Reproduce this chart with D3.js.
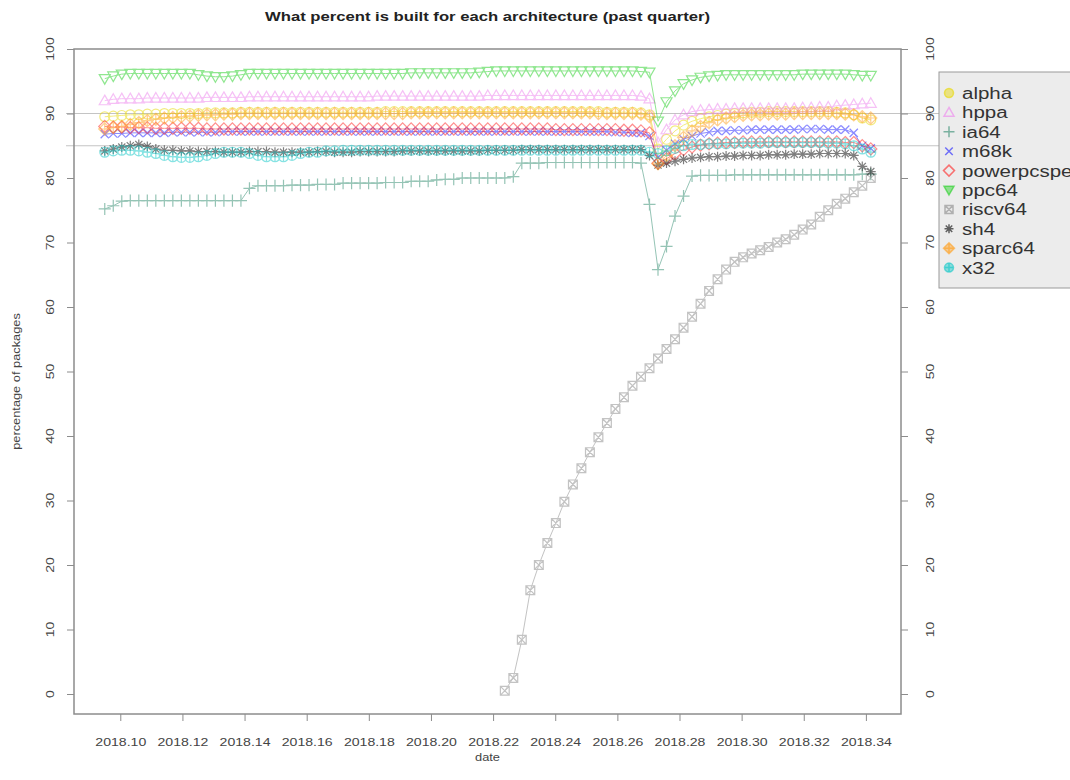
<!DOCTYPE html>
<html>
<head>
<meta charset="utf-8">
<script src="https://cdn.jsdelivr.net/npm/d3@7"></script>
<style>
  body { margin: 0; background: #fff; }
  svg { display: block; font-family: "Liberation Sans", Arial, sans-serif; }
</style>
</head>
<body>
<script>
// architectures, one series per arch (percent built, one value per day, past quarter)
const archs = ["alpha", "hppa", "ia64", "m68k", "powerpcspe", "ppc64", "riscv64", "sh4", "sparc64", "x32"];
const colors = ["#e8d800", "#ee82ee", "#2e8b6e", "#1a1aff", "#ff2020", "#22d022", "#888888", "#000000", "#ffa020", "#10c8c8"];
const pchs = [1, 2, 3, 4, 5, 6, 7, 8, 9, 10];

const firstDay = 2018.095;   // decimal year of first sample
const xTicks = [2018.10, 2018.12, 2018.14, 2018.16, 2018.18, 2018.20, 2018.22, 2018.24, 2018.26, 2018.28, 2018.30, 2018.32, 2018.34];
const yTicks = [0, 10, 20, 30, 40, 50, 60, 70, 80, 90, 100];
const refLines = [90, 85];

const alpha = [89.5, 89.6, 89.7, 89.8, 89.8, 89.9, 89.9, 90.0, 90.0, 90.0,
  90.0, 90.0, 90.1, 90.1, 90.1, 90.1, 90.2, 90.2, 90.2, 90.2,
  90.2, 90.2, 90.2, 90.2, 90.2, 90.2, 90.2, 90.2, 90.2, 90.2,
  90.2, 90.2, 90.2, 90.3, 90.3, 90.3, 90.3, 90.3, 90.3, 90.3,
  90.3, 90.3, 90.3, 90.3, 90.3, 90.3, 90.3, 90.3, 90.3, 90.3,
  90.3, 90.3, 90.3, 90.3, 90.3, 90.3, 90.3, 90.3, 90.3, 90.2,
  90.2, 90.2, 90.2, 90.1, 89.8, 84.5, 86.0, 87.3, 88.2, 88.8,
  89.2, 89.5, 89.7, 89.9, 90.0, 90.1, 90.2, 90.2, 90.3, 90.3,
  90.3, 90.3, 90.3, 90.3, 90.3, 90.3, 90.2, 90.1, 89.8, 89.3,
  89.0];
const hppa = [92.0, 92.2, 92.3, 92.3, 92.3, 92.4, 92.4, 92.4, 92.4, 92.4,
  92.4, 92.4, 92.5, 92.5, 92.5, 92.5, 92.5, 92.6, 92.6, 92.6,
  92.6, 92.6, 92.6, 92.6, 92.6, 92.6, 92.6, 92.6, 92.6, 92.6,
  92.6, 92.6, 92.7, 92.7, 92.7, 92.7, 92.7, 92.7, 92.7, 92.7,
  92.7, 92.7, 92.7, 92.7, 92.7, 92.8, 92.8, 92.8, 92.8, 92.8,
  92.8, 92.8, 92.8, 92.8, 92.8, 92.8, 92.8, 92.8, 92.8, 92.8,
  92.8, 92.8, 92.8, 92.7, 92.3, 85.5, 87.5, 89.0, 89.8, 90.3,
  90.5, 90.6, 90.7, 90.7, 90.8, 90.8, 90.8, 90.8, 90.8, 90.8,
  90.8, 90.8, 90.9, 90.9, 91.0, 91.0, 91.2, 91.3, 91.4, 91.5,
  91.6];
const ia64 = [75.2, 75.7, 76.4, 76.5, 76.5, 76.5, 76.5, 76.5, 76.5, 76.5,
  76.5, 76.5, 76.5, 76.5, 76.5, 76.5, 76.5, 78.4, 78.8, 78.8,
  78.8, 78.8, 78.9, 78.9, 78.9, 79.0, 79.0, 79.0, 79.2, 79.2,
  79.2, 79.2, 79.2, 79.3, 79.3, 79.3, 79.5, 79.5, 79.5, 79.7,
  79.8, 79.8, 80.0, 80.0, 80.0, 80.0, 80.0, 80.0, 80.2, 82.3,
  82.3, 82.3, 82.4, 82.4, 82.4, 82.4, 82.4, 82.4, 82.4, 82.4,
  82.4, 82.4, 82.4, 82.3, 75.9, 65.8, 69.4, 74.1, 77.2, 80.3,
  80.4, 80.4, 80.4, 80.4, 80.5, 80.5, 80.5, 80.5, 80.5, 80.5,
  80.5, 80.5, 80.5, 80.5, 80.5, 80.5, 80.5, 80.5, 80.5, 80.6,
  80.6];
const m68k = [86.8, 86.9, 86.9, 87.0, 87.0, 87.0, 87.0, 87.0, 87.1, 87.1,
  87.1, 87.1, 87.1, 87.1, 87.2, 87.2, 87.2, 87.2, 87.2, 87.2,
  87.2, 87.2, 87.2, 87.2, 87.2, 87.2, 87.2, 87.2, 87.2, 87.2,
  87.2, 87.2, 87.2, 87.2, 87.2, 87.2, 87.2, 87.2, 87.2, 87.2,
  87.2, 87.2, 87.2, 87.2, 87.2, 87.2, 87.2, 87.2, 87.2, 87.2,
  87.2, 87.2, 87.2, 87.2, 87.2, 87.2, 87.2, 87.2, 87.2, 87.2,
  87.1, 87.1, 87.0, 87.0, 86.5, 83.2, 84.3, 85.3, 86.0, 86.5,
  86.9, 87.1, 87.3, 87.3, 87.4, 87.4, 87.5, 87.5, 87.5, 87.5,
  87.5, 87.5, 87.6, 87.6, 87.6, 87.5, 87.5, 87.5, 87.0, 85.0,
  84.6];
const powerpcspe = [88.0, 87.9, 87.9, 87.8, 87.8, 87.8, 87.7, 87.7, 87.7, 87.7,
  87.7, 87.7, 87.6, 87.6, 87.6, 87.6, 87.6, 87.6, 87.6, 87.6,
  87.6, 87.6, 87.6, 87.6, 87.6, 87.6, 87.6, 87.6, 87.6, 87.6,
  87.6, 87.6, 87.6, 87.6, 87.6, 87.6, 87.6, 87.6, 87.6, 87.6,
  87.6, 87.6, 87.6, 87.6, 87.6, 87.6, 87.6, 87.6, 87.6, 87.6,
  87.6, 87.6, 87.6, 87.5, 87.5, 87.5, 87.5, 87.5, 87.5, 87.5,
  87.5, 87.4, 87.4, 87.3, 87.0, 82.3, 83.0, 83.8, 84.4, 84.8,
  85.1, 85.3, 85.4, 85.5, 85.5, 85.6, 85.6, 85.6, 85.6, 85.6,
  85.6, 85.6, 85.6, 85.6, 85.6, 85.6, 85.6, 85.5, 85.5, 85.0,
  84.5];
const ppc64 = [95.4, 95.8, 96.1, 96.2, 96.2, 96.2, 96.2, 96.2, 96.2, 96.2,
  96.2, 96.0, 95.8, 95.7, 95.7, 95.8, 96.0, 96.2, 96.2, 96.2,
  96.2, 96.2, 96.2, 96.2, 96.2, 96.2, 96.2, 96.2, 96.2, 96.2,
  96.2, 96.2, 96.2, 96.2, 96.2, 96.2, 96.3, 96.3, 96.3, 96.3,
  96.3, 96.3, 96.3, 96.3, 96.4, 96.5, 96.6, 96.6, 96.6, 96.6,
  96.6, 96.6, 96.6, 96.6, 96.6, 96.6, 96.6, 96.6, 96.6, 96.6,
  96.6, 96.6, 96.6, 96.5, 96.4, 88.8, 91.8, 93.5, 94.6, 95.2,
  95.6, 95.8, 95.9, 96.0, 96.0, 96.0, 96.0, 96.0, 96.0, 96.0,
  96.0, 96.0, 96.1, 96.1, 96.1, 96.1, 96.1, 96.1, 96.0, 95.9,
  95.9];
const riscv64 = [null, null, null, null, null, null, null, null, null, null,
  null, null, null, null, null, null, null, null, null, null,
  null, null, null, null, null, null, null, null, null, null,
  null, null, null, null, null, null, null, null, null, null,
  null, null, null, null, null, null, null, 0.5, 2.5, 8.4,
  16.1, 20.0, 23.4, 26.5, 29.8, 32.5, 35.0, 37.5, 39.8, 42.0,
  44.2, 46.0, 47.8, 49.2, 50.5, 52.0, 53.5, 55.0, 56.8, 58.5,
  60.5, 62.5, 64.3, 65.8, 67.0, 67.7, 68.3, 68.8, 69.3, 70.0,
  70.5, 71.2, 72.0, 72.8, 74.0, 75.0, 76.0, 76.8, 77.8, 78.8,
  80.0];
const sh4 = [84.2, 84.5, 84.8, 85.0, 85.2, 84.9, 84.5, 84.3, 84.3, 84.2,
  84.2, 84.1, 84.1, 84.1, 84.0, 84.0, 84.0, 84.1, 84.1, 84.1,
  84.0, 84.0, 84.0, 84.0, 84.0, 84.1, 84.1, 84.0, 84.0, 84.0,
  84.1, 84.1, 84.1, 84.1, 84.1, 84.2, 84.2, 84.2, 84.2, 84.2,
  84.2, 84.2, 84.2, 84.2, 84.2, 84.3, 84.3, 84.3, 84.3, 84.4,
  84.4, 84.4, 84.4, 84.4, 84.4, 84.4, 84.4, 84.4, 84.4, 84.4,
  84.4, 84.4, 84.4, 84.4, 83.5, 82.0, 82.3, 82.6, 82.9, 83.1,
  83.2, 83.3, 83.3, 83.4, 83.4, 83.5, 83.5, 83.5, 83.6, 83.6,
  83.6, 83.7, 83.7, 83.7, 83.8, 83.8, 83.8, 83.8, 83.5, 81.8,
  81.0];
const sparc64 = [87.6, 87.8, 88.0, 88.3, 88.6, 88.9, 89.1, 89.3, 89.4, 89.5,
  89.6, 89.7, 89.8, 89.8, 89.9, 89.9, 90.0, 90.0, 90.0, 90.0,
  90.0, 90.0, 90.0, 90.0, 90.0, 90.0, 90.0, 90.0, 90.0, 90.0,
  90.0, 90.0, 90.0, 90.0, 90.0, 90.0, 90.1, 90.1, 90.1, 90.1,
  90.1, 90.1, 90.1, 90.1, 90.1, 90.1, 90.1, 90.1, 90.1, 90.1,
  90.1, 90.1, 90.1, 90.1, 90.1, 90.1, 90.1, 90.1, 90.0, 90.0,
  90.0, 90.0, 90.0, 89.9, 89.5, 82.2, 83.5, 85.0, 86.3, 87.3,
  88.0, 88.6, 89.0, 89.3, 89.5, 89.7, 89.8, 89.8, 89.9, 89.9,
  89.9, 90.0, 90.0, 90.0, 90.0, 90.0, 90.0, 89.9, 89.8, 89.5,
  89.3];
const x32 = [84.0, 84.2, 84.3, 84.3, 84.2, 84.0, 83.8, 83.5, 83.3, 83.2,
  83.2, 83.3, 83.5, 83.8, 84.0, 84.0, 84.0, 83.8, 83.5, 83.3,
  83.3, 83.3, 83.5, 83.8, 84.0, 84.0, 84.2, 84.2, 84.3, 84.3,
  84.3, 84.3, 84.3, 84.3, 84.3, 84.3, 84.3, 84.3, 84.3, 84.3,
  84.3, 84.3, 84.3, 84.3, 84.3, 84.3, 84.3, 84.3, 84.3, 84.3,
  84.3, 84.3, 84.3, 84.3, 84.3, 84.3, 84.3, 84.3, 84.3, 84.3,
  84.3, 84.3, 84.3, 84.3, 84.0, 83.8, 84.2, 84.6, 85.0, 85.2,
  85.2, 85.3, 85.3, 85.3, 85.4, 85.4, 85.4, 85.4, 85.5, 85.5,
  85.5, 85.5, 85.5, 85.5, 85.5, 85.4, 85.4, 85.3, 85.0, 84.5,
  84.0];

const seriesValues = [alpha, hppa, ia64, m68k, powerpcspe, ppc64, riscv64, sh4, sparc64, x32];

// Chart dimensions
const width = 1070;
const height = 780;
const box = { left: 74, right: 901, top: 49, bottom: 714 };
const stretchK = 1.28;   // the picture's text is drawn wide

const xScale = d3.scaleLinear()
  .domain([2018.0851, 2018.3513])
  .range([box.left, box.right]);

const yScale = d3.scaleLinear()
  .domain([-3.1, 100])
  .range([box.bottom, box.top]);

const svg = d3.select("body").append("svg")
  .attr("width", width)
  .attr("height", height);

function stretch(sel, k) {
  sel.each(function () {
    const w = this.getComputedTextLength();
    d3.select(this).attr("textLength", w * k).attr("lengthAdjust", "spacingAndGlyphs");
  });
}

// R style point symbols
function symbolPath(pch, r) {
  const p = d3.path();
  const circle = (rr) => { p.moveTo(rr, 0); p.arc(0, 0, rr, 0, 2 * Math.PI); };
  const plus = (rr) => { p.moveTo(-rr, 0); p.lineTo(rr, 0); p.moveTo(0, -rr); p.lineTo(0, rr); };
  const cross = (rr) => { p.moveTo(-rr, -rr); p.lineTo(rr, rr); p.moveTo(-rr, rr); p.lineTo(rr, -rr); };
  const diamond = (rr) => { p.moveTo(0, -rr); p.lineTo(rr, 0); p.lineTo(0, rr); p.lineTo(-rr, 0); p.closePath(); };
  if (pch === 1) circle(r * 0.9);
  if (pch === 2) { p.moveTo(0, -r); p.lineTo(r, r * 0.75); p.lineTo(-r, r * 0.75); p.closePath(); }
  if (pch === 3) plus(r * 1.1);
  if (pch === 4) cross(r * 0.75);
  if (pch === 5) diamond(r * 1.1);
  if (pch === 6) { p.moveTo(0, r); p.lineTo(r, -r * 0.75); p.lineTo(-r, -r * 0.75); p.closePath(); }
  if (pch === 7) { p.rect(-r * 0.8, -r * 0.8, r * 1.6, r * 1.6); cross(r * 0.8); }
  if (pch === 8) { plus(r * 0.9); cross(r * 0.65); }
  if (pch === 9) { diamond(r * 1.1); plus(r * 1.1); }
  if (pch === 10) { circle(r * 0.9); plus(r * 0.9); }
  return p.toString();
}

// Reference lines at 90 and 85
svg.selectAll("line.ref")
  .data(refLines)
  .enter()
  .append("line")
  .attr("class", "ref")
  .attr("x1", box.left - 8)
  .attr("x2", 940)
  .attr("y1", (d) => yScale(d))
  .attr("y2", (d) => yScale(d))
  .attr("stroke", "#c4c4c4")
  .attr("stroke-width", 1);

// Series
const line = d3.line()
  .defined((d) => d.v !== null)
  .x((d) => xScale(d.x))
  .y((d) => yScale(d.v));

archs.forEach((name, k) => {
  const pts = seriesValues[k].map((v, i) => ({ x: firstDay + i / 365, v: v }));
  const g = svg.append("g").attr("class", "series " + name).attr("opacity", 0.5);
  g.append("path")
    .attr("d", line(pts))
    .attr("fill", "none")
    .attr("stroke", colors[k])
    .attr("stroke-width", 1);
  g.selectAll("path.pt")
    .data(pts.filter((d) => d.v !== null))
    .enter()
    .append("path")
    .attr("class", "pt")
    .attr("transform", (d) => `translate(${xScale(d.x)},${yScale(d.v)})`)
    .attr("d", symbolPath(pchs[k], 5.5))
    .attr("fill", "none")
    .attr("stroke", colors[k])
    .attr("stroke-width", 1.2);
});

// Plot box
svg.append("rect")
  .attr("x", box.left)
  .attr("y", box.top)
  .attr("width", box.right - box.left)
  .attr("height", box.bottom - box.top)
  .attr("fill", "none")
  .attr("stroke", "#8c8c8c")
  .attr("stroke-width", 1.5);

// Axes
const xAxis = d3.axisBottom(xScale).tickValues(xTicks).tickFormat(d3.format(".2f")).tickSize(7);
const gx = svg.append("g")
  .attr("transform", `translate(0,${box.bottom})`)
  .call(xAxis);
gx.select(".domain").remove();
gx.selectAll("line").attr("stroke", "#8c8c8c");
gx.selectAll("text")
  .attr("y", 24)
  .attr("fill", "#444")
  .style("font-size", "11px")
  .call(stretch, stretchK);

// y axes on both sides; labels parallel to the axis
[[d3.axisLeft, box.left, -24], [d3.axisRight, box.right, 29]].forEach(([axisFn, xPos, off]) => {
  const g = svg.append("g")
    .attr("transform", `translate(${xPos},0)`)
    .call(axisFn(yScale).tickValues(yTicks).tickSize(7).tickFormat(""));
  g.select(".domain").remove();
  g.selectAll("line").attr("stroke", "#8c8c8c");
  g.selectAll("text").remove();
  svg.append("g")
    .selectAll("text")
    .data(yTicks)
    .enter()
    .append("text")
    .attr("transform", (d) => `translate(${xPos + off},${yScale(d)}) rotate(-90)`)
    .attr("text-anchor", "middle")
    .attr("dy", "0.35em")
    .attr("fill", "#444")
    .style("font-size", "11px")
    .text((d) => d)
    .call(stretch, stretchK);
});

// Titles
svg.append("text")
  .attr("x", (box.left + box.right) / 2)
  .attr("y", 21)
  .attr("text-anchor", "middle")
  .attr("font-weight", "bold")
  .attr("fill", "#222")
  .style("font-size", "12px")
  .attr("textLength", 445)
  .attr("lengthAdjust", "spacingAndGlyphs")
  .text("What percent is built for each architecture (past quarter)");

svg.append("text")
  .attr("x", (box.left + box.right) / 2)
  .attr("y", 761)
  .attr("text-anchor", "middle")
  .attr("fill", "#444")
  .style("font-size", "10px")
  .text("date")
  .call(stretch, stretchK);

svg.append("text")
  .attr("transform", `translate(20,${(box.top + box.bottom) / 2}) rotate(-90)`)
  .attr("text-anchor", "middle")
  .attr("fill", "#444")
  .style("font-size", "10px")
  .text("percentage of packages")
  .call(stretch, stretchK);

// Legend
const legend = svg.append("g").attr("class", "legend");
legend.append("rect")
  .attr("x", 939)
  .attr("y", 72)
  .attr("width", 160)
  .attr("height", 216)
  .attr("fill", "#ececec")
  .attr("stroke", "#9a9a9a")
  .attr("stroke-width", 1);

const rows = legend.selectAll("g.row")
  .data(archs)
  .enter()
  .append("g")
  .attr("class", "row")
  .attr("transform", (d, i) => `translate(0,${93 + i * 19.4})`);

rows.append("path")
  .attr("transform", "translate(949,0)")
  .attr("d", (d, i) => symbolPath(pchs[i], 5))
  .attr("fill", (d, i) => (pchs[i] === 1 || pchs[i] === 6 || pchs[i] === 9 || pchs[i] === 10) ? colors[i] : "none")
  .attr("fill-opacity", 0.45)
  .attr("stroke", (d, i) => colors[i])
  .attr("stroke-opacity", 0.6)
  .attr("stroke-width", 1.5);

rows.append("text")
  .attr("x", 962)
  .attr("y", 6)
  .attr("fill", "#333")
  .style("font-size", "16px")
  .text((d) => d)
  .call(stretch, stretchK);
</script>
</body>
</html>
